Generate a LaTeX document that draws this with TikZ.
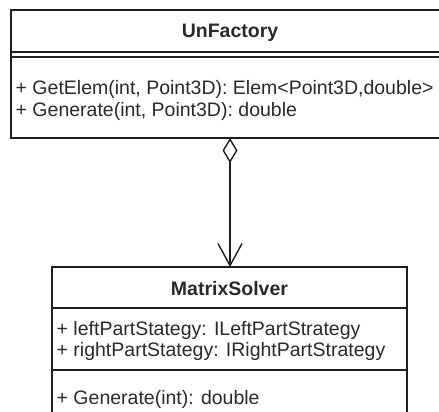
\documentclass[tikz,border=0pt]{standalone}
\usepackage{fontspec}
\setmainfont{Liberation Sans}
\usetikzlibrary{arrows.meta}
\definecolor{ln}{HTML}{1E1E1E}
\definecolor{tx}{HTML}{2A2A2A}
\begin{document}
\begin{tikzpicture}[x=1pt,y=-1pt,
  box/.style={draw=ln, line width=1.4pt, inner sep=0pt, outer sep=0pt},
  sep/.style={draw=ln, line width=1.4pt},
  txt/.style={text=tx, font=\fontsize{19.5}{22.5}\selectfont, inner sep=0pt, anchor=base west},
  ttl/.style={text=tx, font=\bfseries\fontsize{19.5}{22.5}\selectfont, inner sep=0pt, anchor=base},
  conn/.style={draw=ln, line width=1.4pt}]
\path[use as bounding box, clip] (0,0) rectangle (439,412);
\fill[white] (0,0) rectangle (439,412);
% UnFactory
\node[box, minimum width=438pt, minimum height=128pt] (uf) at (230,74) {};
\node[ttl] (uft) at (230,38) {UnFactory};
\draw[sep] (11,52) -- (449,52);
\draw[sep] (11,57) -- (449,57);
\node[txt] (ufm1) at (15.5,94) {+ GetElem(int, Point3D): Elem<Point3D,double>};
\node[txt] (ufm2) at (15.5,116) {+ Generate(int, Point3D): double};
% MatrixSolver
\node[box, minimum width=355pt, minimum height=173pt] (ms) at (229.5,353.5) {};
\node[ttl] (mst) at (229.5,295) {MatrixSolver};
\draw[sep] (52,308) -- (407,308);
\node[txt] (msa1) at (56.5,335) {+ leftPartStategy: ILeftPartStrategy};
\node[txt] (msa2) at (56.5,356) {+ rightPartStategy: IRightPartStrategy};
\draw[sep] (52,370) -- (407,370);
\node[txt] (msm1) at (56.5,404) {+ Generate(int): double};
% aggregation
\draw[conn, {Diamond[open, fill=white, length=25pt, width=15pt]}-{Straight Barb[length=22pt, width=24pt]}]
  (uf.south) -- (uf.south |- ms.north);
\end{tikzpicture}
\end{document}
